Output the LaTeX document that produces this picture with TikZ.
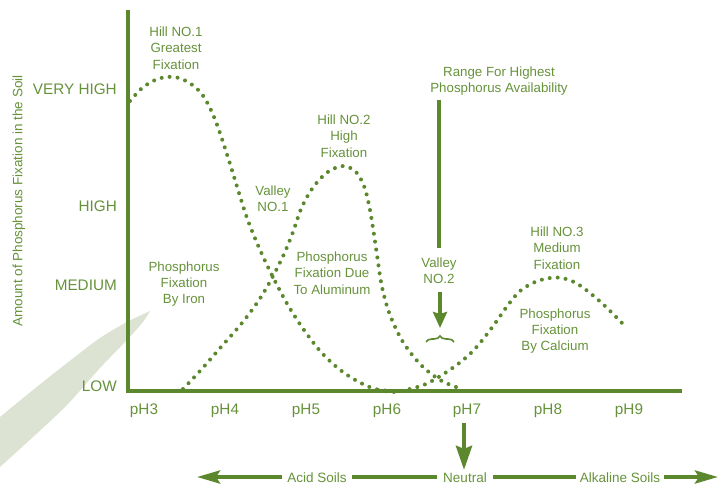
\documentclass[tikz,border=0pt]{standalone}
\usepackage{fontspec}
\setmainfont{Liberation Sans}
\usetikzlibrary{arrows.meta,decorations.pathreplacing}
\definecolor{lgreen}{RGB}{91,135,45}
\definecolor{tgreen}{RGB}{102,146,58}
\definecolor{wedgecol}{RGB}{221,227,211}
\begin{document}
\begin{tikzpicture}[x=1pt,y=-1pt,
  axisline/.style={draw=lgreen,line width=4pt},
  dotcurve/.style={draw=lgreen,line width=4pt,line cap=round,dash pattern=on 0pt off 8pt},
  lbl/.style={text=tgreen,font=\fontsize{13.3}{16.3}\selectfont,align=center,inner sep=0pt},
  ticklbl/.style={text=tgreen,font=\fontsize{15.3}{18}\selectfont,inner sep=0pt},
  botlbl/.style={text=tgreen,font=\fontsize{13.5}{16}\selectfont,inner sep=0pt},
  bigarrow/.style={draw=lgreen,line width=4pt,-{Stealth[length=24pt,width=16pt,inset=3pt]}},
  smallarrow/.style={draw=lgreen,line width=4pt,-{Stealth[length=16pt,width=14pt,inset=2pt]}},
  sidearrow/.style={draw=lgreen,line width=4pt,-{Stealth[length=23pt,width=13pt,inset=4pt]}},
  plainline/.style={draw=lgreen,line width=4pt}
]
\useasboundingbox (0,0) rectangle (725,486);

% light wedge
\fill[wedgecol] plot[smooth,tension=0.5] coordinates {(0,417) (33,390) (67,363) (100,338) (127,322) (150,311)}
  -- plot[smooth,tension=0.5] coordinates {(150,311) (143,322) (127,340) (100,368) (67,405) (33,437) (0,467)} -- cycle;

% axes
\coordinate (ytop) at (128,10);
\coordinate (origin) at (128,391);
\coordinate (xend) at (682,391);
\draw[axisline] (ytop) -- (origin) -- (xend);

% y labels
\node[ticklbl,anchor=east] (vh) at (117,89) {VERY HIGH};
\node[ticklbl,anchor=east] (hi) at (117,206) {HIGH};
\node[ticklbl,anchor=east] (med) at (117,285) {MEDIUM};
\node[ticklbl,anchor=east] (low) at (117,386) {LOW};
\node[lbl,rotate=90,font=\fontsize{13.5}{16}\selectfont] (ylab) at (19,201) {Amount of Phosphorus Fixation in the Soil};

% x labels
\node[ticklbl] (ph3) at (144,411) {pH3};
\node[ticklbl] (ph4) at (225,411) {pH4};
\node[ticklbl] (ph5) at (306,411) {pH5};
\node[ticklbl] (ph6) at (387,411) {pH6};
\node[ticklbl] (ph7) at (467,411) {pH7};
\node[ticklbl] (ph8) at (548,411) {pH8};
\node[ticklbl] (ph9) at (629,411) {pH9};

% curves
\draw[dotcurve] plot[smooth,tension=0.55] coordinates {(130,101) (141,89) (153,81) (166,77) (179,78) (191,84) (201,93) (209,106) (216,122) (223,142) (231,167) (239,193) (247,218) (257,243) (267,265) (277,285) (289,307) (304,330) (321,352) (339,369) (357,381) (375,389) (392,391)};
\draw[dotcurve] plot[smooth,tension=0.55] coordinates {(183,389) (200,371) (221,347) (242,323) (259,300) (272,278) (284,254) (293,232) (301,209) (310,192) (320,179) (331,170) (344,166) (356,172) (364,186) (369,205) (373,228) (377,255) (382,287) (390,315) (403,342) (421,365) (440,380) (456,387)};
\draw[dotcurve] plot[smooth,tension=0.55] coordinates {(378,390) (394,392) (410,389) (426,384) (442,375) (458,364) (472,352) (484,338) (496,322) (508,305) (520,291) (535,282) (550,278) (562,278) (576,283) (590,293) (605,306) (623,324)};

% curve labels
\node[lbl] (hill1) at (176,48) {Hill NO.1\\Greatest\\Fixation};
\node[lbl] (hill2) at (344,136) {Hill NO.2\\High\\Fixation};
\node[lbl] (valley1) at (273,199) {Valley\\NO.1};
\node[lbl] (iron) at (184,284) {Phosphorus\\Fixation\\By Iron};
\node[lbl] (alu) at (332,273) {Phosphorus\\Fixation Due\\To Aluminum};
\node[lbl] (hill3) at (557,248) {Hill NO.3\\Medium\\Fixation};
\node[lbl] (calc) at (555,331) {Phosphorus\\Fixation\\By Calcium};

% range marker
\node[lbl] (range) at (499,81) {Range For Highest\\Phosphorus Availability};
\coordinate (rtop) at (439,100);
\coordinate (rbot) at (439,248);
\draw[plainline] (rtop) -- (rbot);
\node[lbl] (valley2) at (439,271) {Valley\\NO.2};
\coordinate (v2s) at (440,292);
\coordinate (v2e) at (440,328);
\draw[smallarrow] (v2s) -- (v2e);
\coordinate (bl) at (426,342);
\coordinate (br) at (454,342);
\draw[draw=lgreen,line width=1.6pt,decorate,decoration={brace,amplitude=6pt}] (bl) -- (br);

% bottom scale
\node[botlbl] (acid) at (317,478) {Acid Soils};
\node[botlbl] (neutral) at (465,478) {Neutral};
\node[botlbl] (alk) at (620,478) {Alkaline Soils};
\coordinate (lefttip) at (197,477);
\coordinate (righttip) at (718,477);
\coordinate (ph7s) at (464,423);
\draw[sidearrow] ([xshift=-5pt]acid.west |- lefttip) -- (lefttip);
\draw[plainline] ([xshift=5pt]acid.east |- lefttip) -- ([xshift=-6pt]neutral.west |- lefttip);
\draw[plainline] ([xshift=6pt]neutral.east |- lefttip) -- ([xshift=-4pt]alk.west |- lefttip);
\draw[sidearrow] ([xshift=4pt]alk.east |- righttip) -- (righttip);
\draw[bigarrow] (ph7s) -- ([yshift=3pt]neutral.north -| ph7s);
\end{tikzpicture}
\end{document}
